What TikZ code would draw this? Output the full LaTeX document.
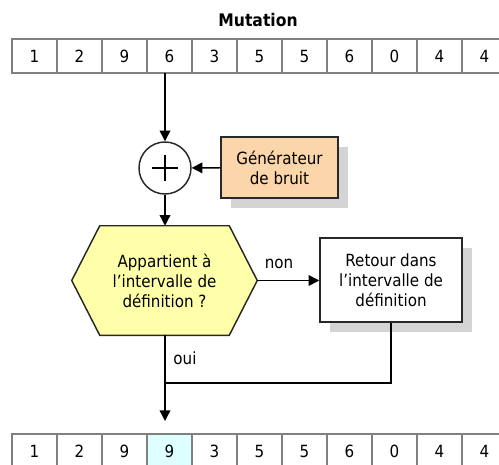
\documentclass[tikz,border=0pt]{standalone}
\usepackage{fontspec}
\setmainfont{DejaVu Sans Condensed}
\usepackage{xcolor}
\usepackage{tikz}
\usetikzlibrary{arrows.meta, calc, shadows}
\definecolor{cellgray}{RGB}{128, 128, 128}
\definecolor{boxborder}{RGB}{40, 40, 40}
\definecolor{bruitfill}{RGB}{250, 214, 170}
\definecolor{testfill}{RGB}{255, 255, 170}
\definecolor{mutecell}{RGB}{221, 255, 255}
\definecolor{shadowgray}{RGB}{212, 212, 212}

\begin{document}
\begin{tikzpicture}[x=0.75pt, y=-0.75pt, >={Triangle[width=8pt, length=8pt]},
    font=\fontsize{12.6}{15}\selectfont,
    cell/.style={draw=cellgray, line width=1pt, minimum width=33.75pt, minimum height=25.5pt, inner sep=0pt, outer sep=0pt},
    box/.style={draw=boxborder, line width=1.1pt, align=center, inner sep=0pt,
        drop shadow={shadow xshift=7.5pt, shadow yshift=-7.5pt, fill=shadowgray, opacity=1}},
    flow/.style={->, line width=1.1pt},
    link/.style={line width=1.1pt}]

    \useasboundingbox (0,0) rectangle (499,464);

    % Title
    \node[font=\bfseries\fontsize{13}{15}\selectfont] (title) at (258,20) {Mutation};

    % Chromosome before mutation
    \foreach \v [count=\i from 0] in {1,2,9,6,3,5,5,6,0,4,4} {
        \node[cell] (t\i) at ({34.5+45*\i}, 56) {\v};
    }

    % Noise addition
    \node[circle, draw=boxborder, line width=1.1pt, fill=white, minimum size=39pt] (sum) at (165,168) {};
    \draw[line width=0.8pt] ($(sum)+(-13,0)$) -- ($(sum)+(13,0)$);
    \draw[line width=0.8pt] ($(sum)+(0,-13)$) -- ($(sum)+(0,13)$);
    \node[box, fill=bruitfill, minimum width=87.75pt, minimum height=45.75pt] (gen) at (279.5,167.5) {Générateur\\de bruit};

    % Test
    \node[minimum width=138.75pt, minimum height=81.75pt, inner sep=0pt] (test) at (164.5,280.5) {};
    \draw[draw=boxborder, line width=1.1pt, fill=testfill] (test.west) -- ($(test.north west)+(28,0)$)
        -- ($(test.north east)+(-28,0)$) -- (test.east) -- ($(test.south east)+(-28,0)$)
        -- ($(test.south west)+(28,0)$) -- cycle;
    \node[align=center] (testtext) at (test.center) {Appartient à\\l’intervalle de\\définition ?};

    % Correction
    \node[box, fill=white, minimum width=106.5pt, minimum height=63pt] (ret) at (391,280) {Retour dans\\l’intervalle de\\définition};

    % Labels
    \node (non) at (279,264) {non};
    \node (oui) at (185,358) {oui};

    % Chromosome after mutation
    \foreach \v [count=\i from 0] in {1,2,9,9,3,5,5,6,0,4,4} {
        \node[cell] (b\i) at ({34.5+45*\i}, 451) {\v};
    }
    \node[cell, fill=mutecell] at (b3) {9};

    % Connectors
    \coordinate (join) at (165,383);
    \draw[flow] (t3.south -| sum) -- (sum);
    \draw[flow] (gen) -- (sum);
    \draw[flow] (sum.south) -- (sum.south |- test.north);
    \draw[flow] (test.east) -- (test.east -| ret.west);
    \draw[link] (ret.south) |- (join);
    \draw[flow, shorten >=9.75pt] (sum.south |- test.south) -- (sum.south |- b3.north);

\end{tikzpicture}
\end{document}
